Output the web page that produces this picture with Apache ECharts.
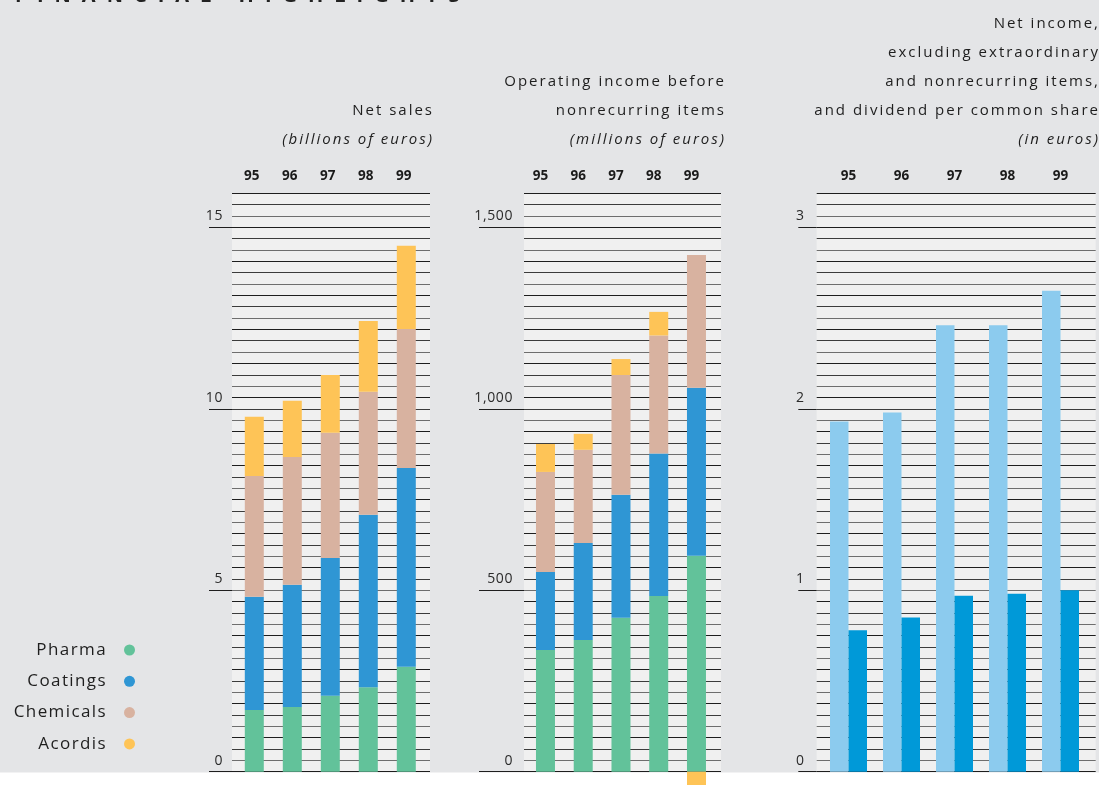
<!DOCTYPE html>
<html>
<head>
<meta charset="utf-8">
<script src="https://cdn.jsdelivr.net/npm/echarts@6/dist/echarts.min.js"></script>
<style>
html,body{margin:0;padding:0;background:#e4e5e7;}
#chart{width:1099px;height:785px;}
</style>
</head>
<body>
<div id="chart"></div>
<script>
// ---- data ----
const years = ['95', '96', '97', '98', '99'];
const segmentNames = ['Pharma', 'Coatings', 'Chemicals', 'Acordis'];

// Net sales (billions of euros)
const salesPharma    = [1.70, 1.78, 2.09, 2.33, 2.89];
const salesCoatings  = [3.12, 3.37, 3.80, 4.75, 5.48];
const salesChemicals = [3.33, 3.52, 3.45, 3.39, 3.83];
const salesAcordis   = [1.63, 1.55, 1.59, 1.95, 2.29];

// Operating income before nonrecurring items (millions of euros)
const opPharma    = [335, 363, 424, 484, 595];
const opCoatings  = [215, 267, 339, 393, 463];
const opChemicals = [276, 257, 330, 325, 366];
const opAcordis   = [77, 44, 44, 65, -40];

// Net income excl. extraordinary & nonrecurring items, dividend per share (euros)
const netIncomePerShare = [1.93, 1.98, 2.46, 2.46, 2.65];
const dividendPerShare  = [0.78, 0.85, 0.97, 0.98, 1.00];

// axis tick labels
const salesTicks = [0, 5, 10, 15];
const opTicks = [0, 500, 1000, 1500];
const epsTicks = [0, 1, 2, 3];

// ---- letter spacing helper (font family marker "lsNN" => NN/10 px) ----
(function () {
  const P = CanvasRenderingContext2D.prototype;
  const orig = P.fillText;
  P.fillText = function (t, x, y, m) {
    const f = this.font || '';
    const mm = f.match(/ls(\d+)/);
    if ('letterSpacing' in this) this.letterSpacing = mm ? (parseInt(mm[1], 10) / 10) + 'px' : '0px';
    return m === undefined ? orig.call(this, t, x, y) : orig.call(this, t, x, y, m);
  };
})();

const segColors = ['#62c29a', '#2f96d4', '#d8b2a0', '#fec457'];
const FONT = "'Open Sans', 'DejaVu Sans', sans-serif";

const chart = echarts.init(document.getElementById('chart'), null, { renderer: 'canvas' });

const TOP = 193.3, BASE = 771.7, H = BASE - TOP;
const grids = [], xAxes = [], yAxes = [], series = [];

function addPanel(p) {
  const gi = grids.length;
  // lines grid
  grids.push({ left: p.lineLeft, width: p.lineWidth, top: TOP, height: H, show: true,
               backgroundColor: '#f0f0f0', borderWidth: 0 });
  // bars grid
  grids.push({ left: p.barLeft, width: p.barWidth, top: TOP, height: H });
  // tick / label grid
  const tickMax = p.ticks[p.ticks.length - 1];
  const tickH = H * tickMax / p.max;
  grids.push({ left: p.lineLeft, width: p.lineWidth, top: BASE - tickH, height: tickH });

  xAxes.push({ gridIndex: gi, type: 'category', data: years, show: false });
  xAxes.push({ gridIndex: gi + 1, type: 'category', data: years, position: 'top',
    axisLine: { show: false }, axisTick: { show: false },
    axisLabel: { margin: 10, fontSize: 13.5, fontWeight: 'bold', color: '#1a1a1a', fontFamily: FONT,
                 padding: [0, p.labelShift * 2, 0, 0] } });
  xAxes.push({ gridIndex: gi + 2, type: 'category', data: years, show: false });

  yAxes.push({ gridIndex: gi, type: 'value', min: 0, max: p.max, interval: p.step,
    axisLine: { show: false }, axisTick: { show: false }, axisLabel: { show: false },
    splitLine: { show: true, lineStyle: { color: ['#1e1e1e', '#6e6e6e', '#3c3c3c'], width: 1 } } });
  yAxes.push({ gridIndex: gi + 1, type: 'value', min: 0, max: p.max, show: false });
  yAxes.push({ gridIndex: gi + 2, type: 'value', min: 0, max: tickMax, interval: p.ticks[1] - p.ticks[0],
    axisLine: { show: false }, splitLine: { show: false },
    axisTick: { show: true, length: p.tickLen, lineStyle: { color: '#1e1e1e', width: 1 } },
    axisLabel: { margin: p.labelMargin, verticalAlign: 'bottom', lineHeight: 14, padding: [0, 0, 4, 0],
                 fontSize: 14, color: '#2a2a2a', fontFamily: "ls6, " + FONT,
                 formatter: function (v) { return v.toLocaleString('en-US'); } } });
  return { x: gi + 1, y: gi + 1 };
}

// Panel 1: Net sales
const a1 = addPanel({ lineLeft: 232, lineWidth: 198, barLeft: 235.3, barWidth: 190,
  max: 15.9375, step: 0.3125, ticks: salesTicks, tickLen: 23, labelMargin: 9, labelShift: 2.6 });
[salesPharma, salesCoatings, salesChemicals, salesAcordis].forEach(function (d, i) {
  series.push({ type: 'bar', name: segmentNames[i], xAxisIndex: a1.x, yAxisIndex: a1.y, stack: 'sales',
    data: d, barWidth: 19, itemStyle: { color: segColors[i] } });
});

// Panel 2: Operating income
const a2 = addPanel({ lineLeft: 524, lineWidth: 197, barLeft: 526.6, barWidth: 188.75,
  max: 1593.75, step: 31.25, ticks: opTicks, tickLen: 45, labelMargin: 11, labelShift: 5 });
[opPharma, opCoatings, opChemicals, opAcordis].forEach(function (d, i) {
  series.push({ type: 'bar', name: segmentNames[i], xAxisIndex: a2.x, yAxisIndex: a2.y, stack: 'op',
    data: d, barWidth: 19, clip: false, itemStyle: { color: segColors[i] } });
});

// Panel 3: Net income & dividend per share
const a3 = addPanel({ lineLeft: 816.7, lineWidth: 279, barLeft: 822, barWidth: 265,
  max: 3.1875, step: 0.0625, ticks: epsTicks, tickLen: 18.4, labelMargin: 12, labelShift: 0 });
series.push({ type: 'bar', name: 'Net income per common share', xAxisIndex: a3.x, yAxisIndex: a3.y,
  data: netIncomePerShare, barWidth: 18.5, barGap: '0%', itemStyle: { color: '#8ccbee' } });
series.push({ type: 'bar', name: 'Dividend per common share', xAxisIndex: a3.x, yAxisIndex: a3.y,
  data: dividendPerShare, barWidth: 18.5, barGap: '0%', itemStyle: { color: '#0099d8' } });

function titleLines(right, lines, italicFrom) {
  const startY = 140 - 29 * (lines.length - 1);
  return lines.map(function (t, i) {
    const italic = i >= italicFrom;
    return { type: 'text', x: right + 2, y: startY + 29 * i,
      style: { text: t, align: 'right', verticalAlign: 'middle', fill: '#1e1e1e',
               font: (italic ? 'italic ' : '') + "15px ls20, " + FONT } };
  });
}

const graphics = [
  { type: 'rect', shape: { x: 0, y: 772.5, width: 1099, height: 13 }, style: { fill: '#ffffff' }, z: -1 },
  { type: 'text', x: 15, y: -3.5, style: { text: 'FINANCIAL HIGHLIGHTS', align: 'left', verticalAlign: 'middle',
      fill: '#222', font: "bold 20px ls110, " + FONT } }
].concat(
  titleLines(432, ['Net sales', '(billions of euros)'], 1),
  titleLines(724, ['Operating income before', 'nonrecurring items', '(millions of euros)'], 2),
  titleLines(1098, ['Net income,', 'excluding extraordinary', 'and nonrecurring items,',
                    'and dividend per common share', '(in euros)'], 4)
);

chart.setOption({
  backgroundColor: '#e4e5e7',
  animation: false,
  grid: grids,
  xAxis: xAxes,
  yAxis: yAxes,
  series: series,
  legend: {
    data: segmentNames,
    orient: 'vertical', align: 'right', right: 964, top: 640, padding: 0,
    icon: 'circle', itemWidth: 11, itemHeight: 11, itemGap: 11.3, selectedMode: false,
    textStyle: { fontSize: 17, lineHeight: 20, color: '#1e1e1e', fontFamily: "ls14, " + FONT,
                 padding: [0, 12, 0, 0] }
  },
  graphic: graphics
});
</script>
</body>
</html>
